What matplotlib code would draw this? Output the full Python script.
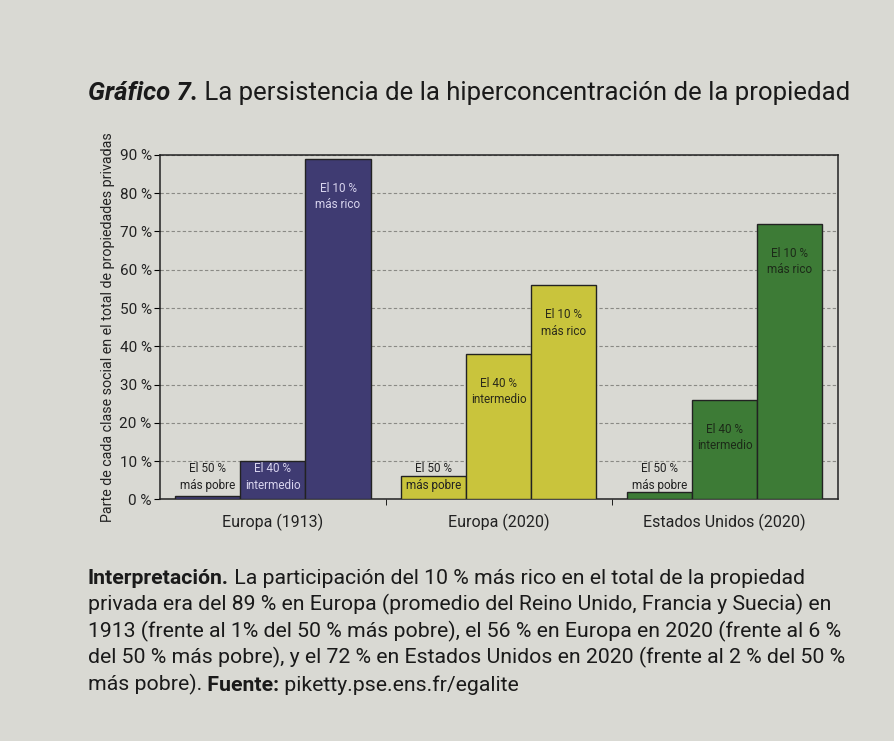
import numpy as np
import matplotlib.pyplot as plt

plt.rcParams['font.family'] = ['Roboto', 'DejaVu Sans']

# datos (% del total de propiedades privadas)
grupos = ["Europa (1913)", "Europa (2020)", "Estados Unidos (2020)"]
clases = ["El 50 %\nmás pobre", "El 40 %\nintermedio", "El 10 %\nmás rico"]
pobre = [1, 6, 2]
intermedio = [10, 38, 26]
rico = [89, 56, 72]
colores = ["#3f3b72", "#c9c43c", "#3d7b36"]
colores_texto = ["#d8d4ee", "#2a2a1a", "#1c2a18"]
yticks = [0, 10, 20, 30, 40, 50, 60, 70, 80, 90]

papel = "#d9d9d3"
fig = plt.figure(figsize=(8.94, 7.41), dpi=100, facecolor=papel)
ax = fig.add_axes([0.179, 0.326, 0.758, 0.465])
ax.set_facecolor(papel)

x = np.arange(len(grupos))
w = 0.288
series = [pobre, intermedio, rico]
for g in range(len(grupos)):
    for k, vals in enumerate(series):
        xi = x[g] + (k - 1) * w
        v = vals[g]
        ax.bar(xi, v, width=w, color=colores[g], edgecolor="#222222",
               linewidth=1.0, zorder=3)
        if v < 15:
            ax.text(xi, 5.8, clases[k], ha="center", va="center",
                    fontsize=8.5, color=colores_texto[g] if (k > 0 and g == 0) else "#222222",
                    linespacing=1.35, zorder=4)
        else:
            ax.text(xi, v - 6, clases[k], ha="center", va="top",
                    fontsize=8.5, color=colores_texto[g], linespacing=1.35,
                    zorder=4)

ax.set_xlim(-0.5, 2.5)
ax.set_ylim(0, 90)
ax.set_yticks(yticks)
ax.set_yticklabels([f"{t} %" for t in yticks], fontsize=11, color="#222222")
ax.set_xticks(x)
ax.set_xticklabels(grupos, fontsize=11.5, color="#222222")
ax.tick_params(axis="x", length=0, pad=10)
ax.set_xticks([0.5, 1.5], minor=True)
ax.tick_params(axis="x", which="minor", length=4, direction="out")
ax.tick_params(axis="y", length=4, pad=2)
ax.yaxis.grid(True, linestyle=(0, (3, 2)), color="#8a8a85", linewidth=0.8, zorder=0)
for s in ax.spines.values():
    s.set_color("#222222")
    s.set_linewidth(1.1)
ax.set_ylabel("Parte de cada clase social en el total de propiedades privadas",
              fontsize=10.3, color="#222222", labelpad=3)

# titulo
t1 = fig.text(0.098, 0.865, "Gráfico 7.", fontsize=18.5, fontweight="bold",
              fontstyle="italic", color="#1a1a1a", va="baseline")
ax.annotate(" La persistencia de la hiperconcentración de la propiedad",
            xy=(1, 0), xycoords=t1, va="bottom", ha="left", fontsize=18.5,
            color="#1a1a1a", annotation_clip=False)

# texto de interpretacion
lineas = [
    "La participación del 10 % más rico en el total de la propiedad",
    "privada era del 89 % en Europa (promedio del Reino Unido, Francia y Suecia) en",
    "1913 (frente al 1% del 50 % más pobre), el 56 % en Europa en 2020 (frente al 6 %",
    "del 50 % más pobre), y el 72 % en Estados Unidos en 2020 (frente al 2 % del 50 %",
    "más pobre).",
]
fs = 15.3
y0 = 0.212
dy = 0.0358
b1 = fig.text(0.098, y0, "Interpretación.", fontsize=fs, fontweight="bold",
              color="#1a1a1a", va="baseline")
ax.annotate(" " + lineas[0], xy=(1, 0), xycoords=b1, va="bottom", ha="left",
            fontsize=fs, color="#1a1a1a", annotation_clip=False)
for i, l in enumerate(lineas[1:], start=1):
    t = fig.text(0.098, y0 - i * dy, l, fontsize=fs, color="#1a1a1a",
                 va="baseline")
b2 = ax.annotate(" Fuente:", xy=(1, 0), xycoords=t, va="bottom", ha="left",
                 fontsize=fs, fontweight="bold", color="#1a1a1a",
                 annotation_clip=False)
ax.annotate(" piketty.pse.ens.fr/egalite", xy=(1, 0), xycoords=b2,
            va="bottom", ha="left", fontsize=fs, color="#1a1a1a",
            annotation_clip=False)

fig.savefig("out.png", dpi=100, facecolor=papel)
